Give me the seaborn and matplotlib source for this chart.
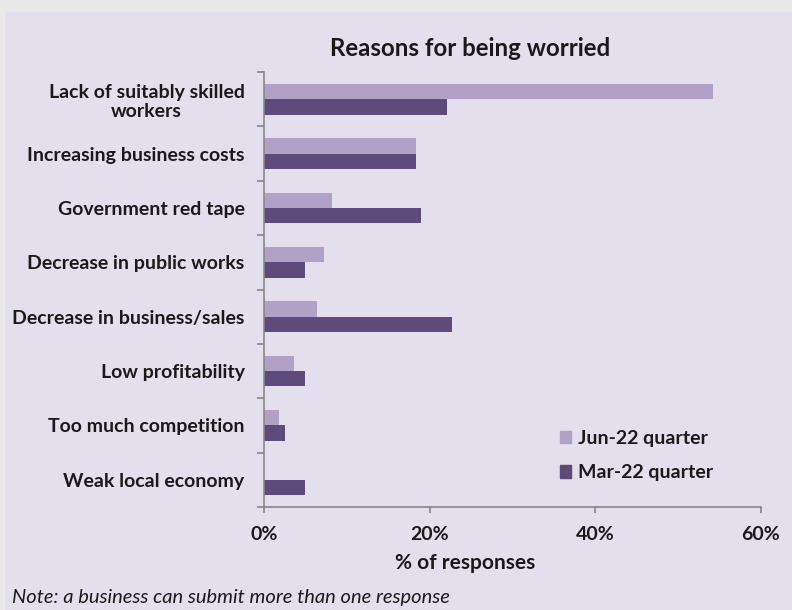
import pandas as pd
import matplotlib.pyplot as plt
import matplotlib.patches as mpatches
import seaborn as sns

# data
reasons = [
    'Lack of suitably skilled\nworkers',
    'Increasing business costs',
    'Government red tape',
    'Decrease in public works',
    'Decrease in business/sales',
    'Low profitability',
    'Too much competition',
    'Weak local economy',
]
jun_22 = [54.2, 18.3, 8.2, 7.3, 6.4, 3.6, 1.8, 0.0]
mar_22 = [22.1, 18.3, 19.0, 5.0, 22.7, 5.0, 2.5, 5.0]
series = ['Jun-22 quarter', 'Mar-22 quarter']
x_ticks = [0, 20, 40, 60]
x_tick_labels = ['0%', '20%', '40%', '60%']

df = pd.DataFrame({
    'reason': reasons * 2,
    'value': jun_22 + mar_22,
    'quarter': [series[0]] * len(reasons) + [series[1]] * len(reasons),
})

panel = '#e4dfec'
colors = {'Jun-22 quarter': '#b1a1c7', 'Mar-22 quarter': '#5f4b7b'}
grey = '#868686'
ink = '#1a1a1a'

sns.set_theme(style='white')
plt.rcParams['font.family'] = ['Lato', 'DejaVu Sans']
plt.rcParams['font.weight'] = 'bold'

fig = plt.figure(figsize=(7.92, 6.10), dpi=100, facecolor='#e8e8e8')
# lavender panel behind everything, leaving a thin grey strip top and left
bg = mpatches.Rectangle((5 / 792, 0), 1, 1 - 12 / 610, transform=fig.transFigure,
                        facecolor=panel, edgecolor='none', zorder=-10)
fig.add_artist(bg)

ax = fig.add_axes([264 / 792, 1 - 507 / 610, (761 - 264) / 792, (507 - 72) / 610])
ax.set_facecolor(panel)

sns.barplot(data=df, x='value', y='reason', hue='quarter', hue_order=series,
            palette=colors, orient='h', width=0.565, saturation=1,
            linewidth=0, legend=False, ax=ax)

ax.set_xlim(0, 60)
ax.set_ylim(len(reasons) - 0.5, -0.5)
ax.set_xticks(x_ticks)
ax.set_xticklabels(x_tick_labels)
ax.set_xlabel('')
ax.set_ylabel('')

for s in ['top', 'right']:
    ax.spines[s].set_visible(False)
for s in ['left', 'bottom']:
    ax.spines[s].set_color(grey)
    ax.spines[s].set_linewidth(1.2)

# Excel-style ticks between the categories
ax.set_yticks([i - 0.5 for i in range(len(reasons) + 1)], minor=True)
ax.tick_params(axis='y', which='major', left=True, length=0, pad=14, labelsize=14,
               labelcolor=ink)
ax.tick_params(axis='y', which='minor', left=True, length=5, width=1.2, color=grey,
               direction='out')
ax.tick_params(axis='x', which='major', bottom=True, length=4.5, width=1.2, color=grey,
               direction='out', pad=9, labelsize=14, labelcolor=ink)
for lab in ax.get_yticklabels():
    lab.set_fontweight('bold')
    lab.set_multialignment('center')
for lab in ax.get_xticklabels():
    lab.set_fontweight('bold')

handles = [mpatches.Patch(color=colors[s], label=s) for s in series]
leg = ax.legend(handles=handles, loc='center left', bbox_to_anchor=(0.56, 0.118),
                frameon=False, handlelength=0.6, handleheight=0.6,
                handletextpad=0.35, labelspacing=0.9,
                prop={'weight': 'bold', 'size': 14})
for t in leg.get_texts():
    t.set_color(ink)

fig.text(470 / 792, 1 - 48 / 610, 'Reasons for being worried', ha='center', va='center',
         fontsize=17.3, fontweight='bold', color=ink)
fig.text(465 / 792, 1 - 563 / 610, '% of responses', ha='center', va='center',
         fontsize=15, fontweight='bold', color=ink)
fig.text(12 / 792, 1 - 597 / 610, 'Note: a business can submit more than one response',
         ha='left', va='center', fontsize=14.5, fontstyle='italic', fontweight='normal',
         color=ink)

fig.savefig('out.png', dpi=100, facecolor=fig.get_facecolor())
